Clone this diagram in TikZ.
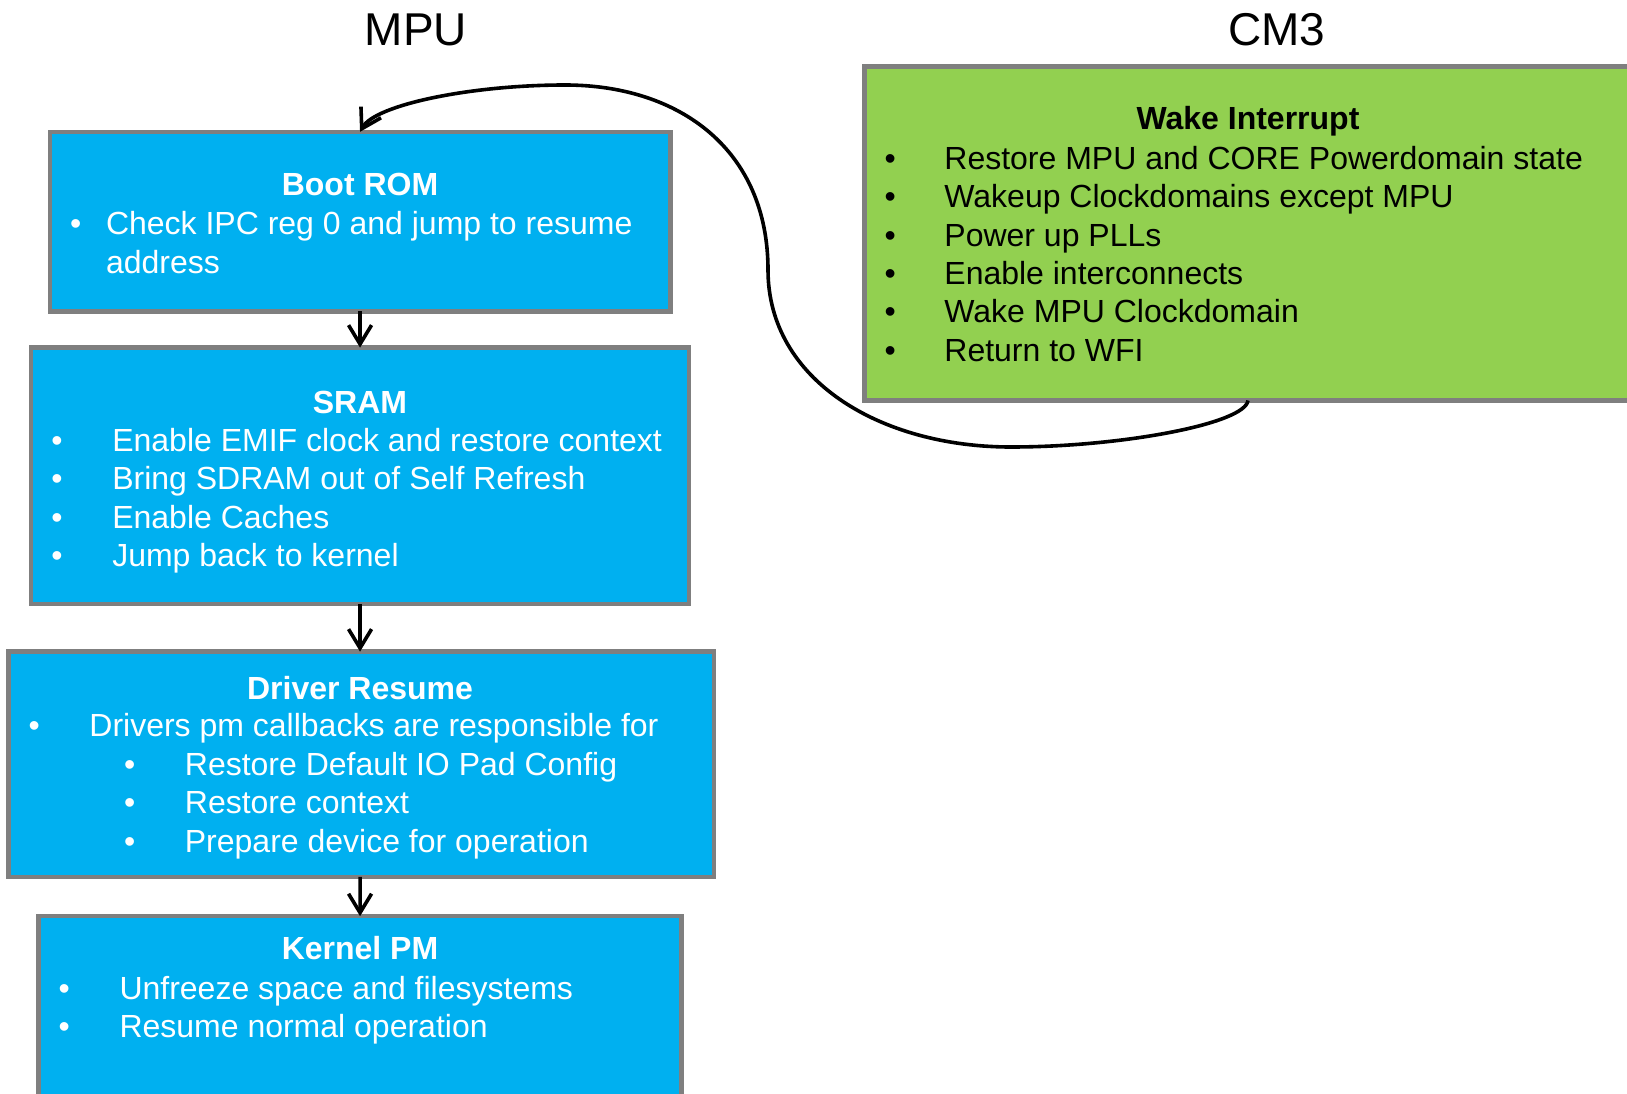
\documentclass[tikz,border=0pt]{standalone}
\usepackage{fontspec}
\setmainfont{Liberation Sans}
\usetikzlibrary{arrows.meta}
\definecolor{boxblue}{HTML}{00B0F0}
\definecolor{boxgreen}{HTML}{92D050}
\definecolor{boxgray}{HTML}{7F7F7F}
\tikzset{
  panel/.style={draw=boxgray, line width=4.5pt, anchor=north west, inner sep=0pt, outer sep=0pt},
  bluepanel/.style={panel, fill=boxblue},
  greenpanel/.style={panel, fill=boxgreen},
  txt/.style={inner sep=0pt, anchor=base west, font=\fontsize{32}{38.4}\selectfont},
  bul/.style={inner sep=0pt, anchor=base, font=\fontsize{32}{38.4}\selectfont},
  ttl/.style={inner sep=0pt, anchor=base, font=\fontsize{32}{38.4}\selectfont\bfseries},
  head/.style={inner sep=0pt, anchor=base, font=\fontsize{46}{55}\selectfont},
  wtxt/.style={txt, text=white},
  wbul/.style={bul, text=white},
  wttl/.style={ttl, text=white},
  conn/.style={draw=black, line width=3.6pt, -{Straight Barb[length=19pt,width=23pt,line width=3.6pt]}},
}
\begin{document}
\begin{tikzpicture}[x=1pt,y=-1pt]
\useasboundingbox (0,0) rectangle (1627,1094);
\clip (0,0) rectangle (1627,1094);
\fill[white] (0,0) rectangle (1627,1094);

% headings
\node[head] (hmpu) at (416,45.5) {MPU};
\node[head] (hcm3) at (1277,45.5) {CM3};

% boxes
\node[bluepanel, minimum width=620.5pt, minimum height=179.5pt] (boot) at (49.8,131.8) {};
\node[bluepanel, minimum width=657.9pt, minimum height=256.3pt] (sram) at (31.1,347.6) {};
\node[bluepanel, minimum width=705.6pt, minimum height=225.2pt] (drv) at (8.3,651.6) {};
\node[bluepanel, minimum width=643.3pt, minimum height=220pt] (kern) at (38.4,916.2) {};
\node[greenpanel, minimum width=800pt, minimum height=334.1pt] (wake) at (864.3,66.4) {};

% Boot ROM text
\node[wttl] (bt) at (360,195.2) {Boot ROM};
\node[wbul] (bb1) at (75.7,234.6) {•};
\node[wtxt] (bl1) at (105.8,234.6) {Check IPC reg 0 and jump to resume};
\node[wtxt] (bl2) at (105.8,273) {address};

% SRAM text
\node[wttl] (st) at (360,413.1) {SRAM};
\node[wbul] (sb1) at (57.1,451.5) {•};
\node[wtxt] (sl1) at (112.1,451.5) {Enable EMIF clock and restore context};
\node[wbul] (sb2) at (57.1,489.9) {•};
\node[wtxt] (sl2) at (112.1,489.9) {Bring SDRAM out of Self Refresh};
\node[wbul] (sb3) at (57.1,528.3) {•};
\node[wtxt] (sl3) at (112.1,528.3) {Enable Caches};
\node[wbul] (sb4) at (57.1,566.7) {•};
\node[wtxt] (sl4) at (112.1,566.7) {Jump back to kernel};

% Driver Resume text
\node[wttl] (dt) at (360,699.4) {Driver Resume};
\node[wbul] (db1) at (34.2,736.8) {•};
\node[wtxt] (dl1) at (89.2,736.8) {Drivers pm callbacks are responsible for};
\node[wbul] (db2) at (129.7,775.2) {•};
\node[wtxt] (dl2) at (184.7,775.2) {Restore Default IO Pad Config};
\node[wbul] (db3) at (129.7,813.6) {•};
\node[wtxt] (dl3) at (184.7,813.6) {Restore context};
\node[wbul] (db4) at (129.7,852) {•};
\node[wtxt] (dl4) at (184.7,852) {Prepare device for operation};

% Kernel PM text
\node[wttl] (kt) at (360,959.9) {Kernel PM};
\node[wbul] (kb1) at (64.3,999.3) {•};
\node[wtxt] (kl1) at (119.3,999.3) {Unfreeze space and filesystems};
\node[wbul] (kb2) at (64.3,1037.7) {•};
\node[wtxt] (kl2) at (119.3,1037.7) {Resume normal operation};

% Wake Interrupt text
\node[ttl] (wt) at (1248,129.8) {Wake Interrupt};
\node[bul] (wb1) at (890.3,169.2) {•};
\node[txt] (wl1) at (944.2,169.2) {Restore MPU and CORE Powerdomain state};
\node[bul] (wb2) at (890.3,207.6) {•};
\node[txt] (wl2) at (944.2,207.6) {Wakeup Clockdomains except MPU};
\node[bul] (wb3) at (890.3,246) {•};
\node[txt] (wl3) at (944.2,246) {Power up PLLs};
\node[bul] (wb4) at (890.3,284.4) {•};
\node[txt] (wl4) at (944.2,284.4) {Enable interconnects};
\node[bul] (wb5) at (890.3,322.8) {•};
\node[txt] (wl5) at (944.2,322.8) {Wake MPU Clockdomain};
\node[bul] (wb6) at (890.3,361.2) {•};
\node[txt] (wl6) at (944.2,361.2) {Return to WFI};

% connectors
\draw[conn] (boot.south) -- (sram.north);
\draw[conn] (sram.south) -- (sram.south |- drv.north);
\draw[conn] (drv.south -| sram.south) -- (kern.north);

\coordinate (cstart) at (1248,400.5);
\draw[conn] (cstart) .. controls (1245,424) and (1120,447) .. (1011,447)
  .. controls (880,447) and (768,380) .. (768,270)
  .. controls (768,150) and (680,85) .. (565,85)
  .. controls (470,85) and (375,105) .. (boot.north);
\end{tikzpicture}
\end{document}
